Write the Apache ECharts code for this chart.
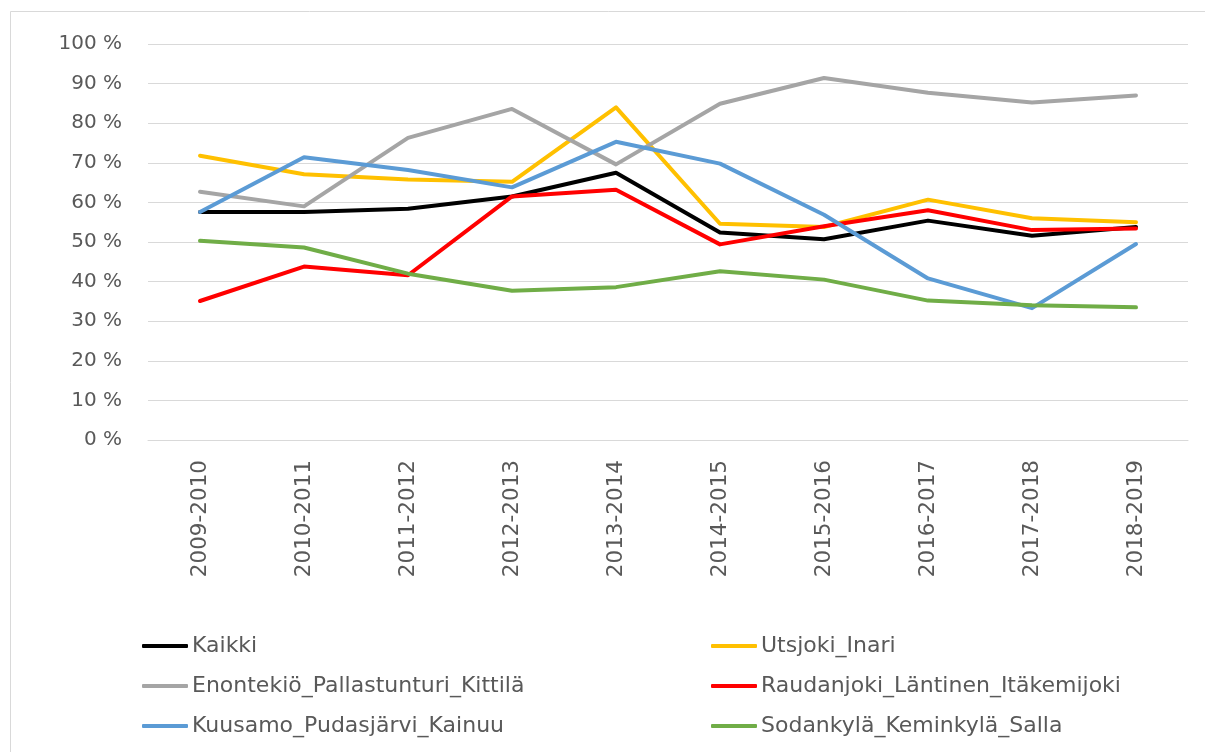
<!DOCTYPE html>
<html>
<head>
<meta charset="utf-8">
<script src="https://cdn.jsdelivr.net/npm/echarts@6/dist/echarts.min.js"></script>
<style>
  html, body { margin: 0; padding: 0; background: #fff; }
  #chart { width: 1205px; height: 752px; }
</style>
</head>
<body>
<div id="chart"></div>
<script>
// kaudet
var categories = ['2009-2010', '2010-2011', '2011-2012', '2012-2013', '2013-2014',
                  '2014-2015', '2015-2016', '2016-2017', '2017-2018', '2018-2019'];

// osuudet prosentteina
var kaikki     = [57.6, 57.6, 58.4, 61.5, 67.5, 52.4, 50.7, 55.4, 51.6, 53.8];
var utsjoki    = [71.8, 67.1, 65.8, 65.2, 84.0, 54.6, 53.8, 60.7, 56.0, 55.0];
var enontekio  = [62.7, 59.0, 76.3, 83.6, 69.6, 84.9, 91.4, 87.7, 85.2, 87.0];
var raudanjoki = [35.1, 43.8, 41.6, 61.5, 63.2, 49.4, 54.0, 58.0, 53.0, 53.4];
var kuusamo    = [57.6, 71.4, 68.2, 63.8, 75.3, 69.8, 56.9, 40.8, 33.3, 49.5];
var sodankyla  = [50.3, 48.6, 42.0, 37.7, 38.6, 42.6, 40.5, 35.2, 34.0, 33.5];

var names = ['Kaikki', 'Utsjoki_Inari', 'Enontekiö_Pallastunturi_Kittilä',
             'Raudanjoki_Läntinen_Itäkemijoki', 'Kuusamo_Pudasjärvi_Kainuu',
             'Sodankylä_Keminkylä_Salla'];
var values = [kaikki, utsjoki, enontekio, raudanjoki, kuusamo, sodankyla];
var colors = ['#000000', '#FFC000', '#A5A5A5', '#FF0000', '#5B9BD5', '#70AD47'];

var font = 'DejaVu Sans';
var textColor = '#595959';

var chart = echarts.init(document.getElementById('chart'));

var series = names.map(function (n, i) {
  return {
    name: n,
    type: 'line',
    data: values[i],
    showSymbol: false,
    symbol: 'none',
    animation: false,
    lineStyle: { width: 4, color: colors[i], join: 'round', cap: 'round' },
    itemStyle: { color: colors[i] }
  };
});

function legendFor(list, left) {
  return {
    orient: 'vertical',
    left: left,
    top: 630,
    data: list,
    icon: 'roundRect',
    itemWidth: 46,
    itemHeight: 4,
    itemGap: 18,
    selectedMode: false,
    textStyle: { fontFamily: font, fontSize: 22, color: textColor, lineHeight: 21, padding: [0, 0, 0, -1] }
  };
}

var option = {
  backgroundColor: '#ffffff',
  animation: false,
  color: colors,
  graphic: [{
    type: 'rect',
    shape: { x: 10.5, y: 11.5, width: 1400, height: 1000 },
    style: { fill: 'none', stroke: '#d9d9d9', lineWidth: 1 },
    silent: true
  }],
  legend: [
    legendFor([names[0], names[2], names[4]], 137),
    legendFor([names[1], names[3], names[5]], 706)
  ],
  grid: { left: 148, right: 17, top: 44, bottom: 312 },
  xAxis: {
    type: 'category',
    data: categories,
    boundaryGap: true,
    axisLine: { show: true, lineStyle: { color: '#d9d9d9', width: 1 } },
    axisTick: { show: false },
    axisLabel: { rotate: 90, margin: 20, fontFamily: font, fontSize: 21.5, color: textColor }
  },
  yAxis: {
    type: 'value',
    min: 0,
    max: 100,
    interval: 10,
    axisLine: { show: false },
    axisTick: { show: false },
    splitLine: { lineStyle: { color: '#d9d9d9', width: 1 } },
    axisLabel: { formatter: '{value} %', margin: 26, fontFamily: font, fontSize: 20, color: textColor }
  },
  series: series
};

chart.setOption(option);
</script>
</body>
</html>
